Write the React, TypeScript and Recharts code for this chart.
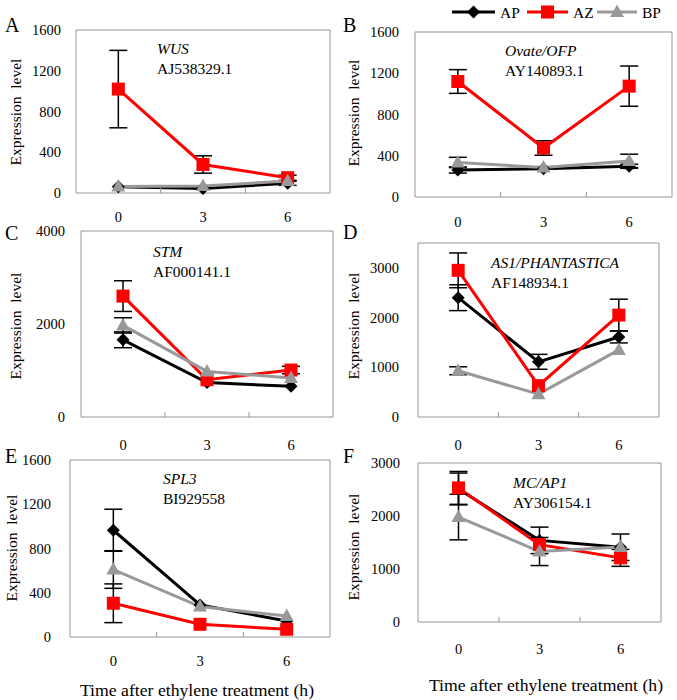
import React from "react";
import { LineChart, Line, XAxis, YAxis, ErrorBar, ReferenceArea } from "recharts";

const TIMES = [0, 3, 6];
const SERIES = ["AP", "AZ", "BP"];

// A - WUS
const wusAP = [62, 45, 95];
const wusAPErr = [null, null, 20];
const wusAZ = [1020, 280, 150];
const wusAZErr = [380, 85, 25];
const wusBP = [65, 68, 118];
const wusBPErr = [null, null, null];
const wusTicks = [0, 400, 800, 1200, 1600];

// B - Ovate/OFP
const ofpAP = [262, 275, 298];
const ofpAPErr = [30, null, 20];
const ofpAZ = [1120, 475, 1075];
const ofpAZErr = [115, 70, 195];
const ofpBP = [335, 285, 350];
const ofpBPErr = [50, null, 65];
const ofpTicks = [0, 400, 800, 1200, 1600];

// C - STM
const stmAP = [1660, 740, 660];
const stmAPErr = [170, null, null];
const stmAZ = [2600, 800, 1010];
const stmAZErr = [330, null, 80];
const stmBP = [1970, 980, 840];
const stmBPErr = [165, null, null];
const stmTicks = [0, 2000, 4000];

// D - AS1/PHANTASTICA
const as1AP = [2400, 1110, 1610];
const as1APErr = [260, 150, 120];
const as1AZ = [2950, 630, 2050];
const as1AZErr = [350, null, 320];
const as1BP = [930, 460, 1350];
const as1BPErr = [80, null, null];
const as1Ticks = [0, 1000, 2000, 3000];

// E - SPL3
const splAP = [965, 290, 145];
const splAPErr = [190, null, null];
const splAZ = [305, 115, 70];
const splAZErr = [175, null, null];
const splBP = [610, 275, 190];
const splBPErr = [170, null, null];
const splTicks = [0, 400, 800, 1200, 1600];

// F - MC/AP1
const mcAP = [2510, 1540, 1410];
const mcAPErr = [300, 250, 250];
const mcAZ = [2530, 1460, 1210];
const mcAZErr = [310, null, 160];
const mcBP = [1980, 1330, 1415];
const mcBPErr = [430, 265, null];
const mcTicks = [0, 1000, 2000, 3000];

const FONT = "Liberation Serif, Times New Roman, Times, DejaVu Serif, serif";
const COLORS = { AP: "#000000", AZ: "#ff0000", BP: "#999999" };
const BORDER = "#969696";

const build = (ap, apE, az, azE, bp, bpE) =>
  TIMES.map((t, i) => ({ t, AP: ap[i], APe: apE[i], AZ: az[i], AZe: azE[i], BP: bp[i], BPe: bpE[i] }));

const panels = [
  { letter: "A", gene: "WUS", acc: "AJ538329.1", data: build(wusAP, wusAPErr, wusAZ, wusAZErr, wusBP, wusBPErr), ticks: wusTicks, max: 1600,
    box: [76, 30, 330, 193], gap: 15, lab: 24, letterPos: [5, 25], yTitle: [15, 112], genePos: [157, 48] },
  { letter: "B", gene: "Ovate/OFP", acc: "AY140893.1", data: build(ofpAP, ofpAPErr, ofpAZ, ofpAZErr, ofpBP, ofpBPErr), ticks: ofpTicks, max: 1600,
    box: [415, 32, 672, 197], gap: 16, lab: 25, letterPos: [343, 25], yTitle: [353, 113], genePos: [505, 50] },
  { letter: "C", gene: "STM", acc: "AF000141.1", data: build(stmAP, stmAPErr, stmAZ, stmAZErr, stmBP, stmBPErr), ticks: stmTicks, max: 4000,
    box: [81, 231, 333, 417], gap: 16, lab: 28, letterPos: [5, 233], yTitle: [15, 326], genePos: [153, 251] },
  { letter: "D", gene: "AS1/PHANTASTICA", acc: "AF148934.1", data: build(as1AP, as1APErr, as1AZ, as1AZErr, as1BP, as1BPErr), ticks: as1Ticks, max: 3500,
    box: [418, 243, 659, 417], gap: 19, lab: 28, letterPos: [343, 232], yTitle: [353, 326], genePos: [491, 262] },
  { letter: "E", gene: "SPL3", acc: "BI929558", data: build(splAP, splAPErr, splAZ, splAZErr, splBP, splBPErr), ticks: splTicks, max: 1600,
    box: [70, 460, 330, 637], gap: 19, lab: 24, letterPos: [5, 456], yTitle: [11, 548], genePos: [163, 478] },
  { letter: "F", gene: "MC/AP1", acc: "AY306154.1", data: build(mcAP, mcAPErr, mcAZ, mcAZErr, mcBP, mcBPErr), ticks: mcTicks, max: 3000,
    box: [418, 463, 661, 622], gap: 18, lab: 27, letterPos: [343, 456], yTitle: [353, 547], genePos: [513, 482] },
];

function Marker({ name, cx, cy }) {
  if (cx == null || cy == null) return null;
  if (name === "AP") {
    const h = 6.5;
    return <polygon points={`${cx},${cy - h} ${cx + h},${cy} ${cx},${cy + h} ${cx - h},${cy}`} fill={COLORS.AP} />;
  }
  if (name === "AZ") {
    return <rect x={cx - 6.5} y={cy - 6.5} width={13} height={13} fill={COLORS.AZ} />;
  }
  return <polygon points={`${cx},${cy - 7.5} ${cx + 7},${cy + 5} ${cx - 7},${cy + 5}`} fill={COLORS.BP} />;
}

const YAXIS_W = 60;
const PAD = 8;
const XAXIS_H = 40;

function Panel({ p }) {
  const [l, t, r, b] = p.box;
  const width = r - l + YAXIS_W + PAD;
  const height = b - t + PAD + XAXIS_H;
  const between = TIMES.slice(1).map((v, i) => (v + TIMES[i]) / 2);
  const step = TIMES[1] - TIMES[0];
  const domain = [TIMES[0] - step / 2, TIMES[TIMES.length - 1] + step / 2];
  const xTicks = [...TIMES, ...between].sort((a, c) => a - c);

  const renderTick = (props) => {
    const { x, y, payload } = props;
    if (TIMES.includes(payload.value)) {
      return (
        <text x={x} y={y + p.lab} textAnchor="middle" dominantBaseline="central" fontSize={14.5} fontFamily={FONT} fill="#000">
          {payload.value}
        </text>
      );
    }
    return <line x1={x} x2={x} y1={y} y2={y - 5} stroke={BORDER} strokeWidth={1} />;
  };

  return (
    <div style={{ position: "absolute", left: l - YAXIS_W, top: t - PAD }}>
      <LineChart width={width} height={height} data={p.data} margin={{ top: PAD, right: PAD, left: 0, bottom: 0 }}>
        <XAxis
          dataKey="t"
          type="number"
          domain={domain}
          ticks={xTicks}
          interval={0}
          tick={renderTick}
          tickLine={false}
          axisLine={false}
          tickSize={0}
          tickMargin={0}
          height={XAXIS_H}
        />
        <YAxis
          type="number"
          domain={[0, p.max]}
          ticks={p.ticks}
          interval={0}
          width={YAXIS_W}
          tickLine={false}
          axisLine={false}
          tickSize={0}
          tickMargin={p.gap}
          tick={{ fontSize: 14.5, fontFamily: FONT, fill: "#000" }}
        />
        <ReferenceArea x1={domain[0]} x2={domain[1]} y1={0} y2={p.max} fill="none" stroke={BORDER} strokeWidth={1} ifOverflow="visible" />
        {SERIES.map((s) => (
          <Line
            key={s}
            dataKey={s}
            stroke={COLORS[s]}
            strokeWidth={3}
            isAnimationActive={false}
            dot={(dp) => <Marker key={`${s}-${dp.index}`} name={s} cx={dp.cx} cy={dp.cy} />}
            activeDot={false}
          >
            <ErrorBar dataKey={`${s}e`} direction="y" width={9} stroke="#000" strokeWidth={1.5} isAnimationActive={false} />
          </Line>
        ))}
      </LineChart>
    </div>
  );
}

function Overlay() {
  const legendX = [452, 527, 597];
  const legendLen = [43, 41, 40];
  return (
    <svg width={677} height={700} style={{ position: "absolute", left: 0, top: 0, pointerEvents: "none", fontFamily: FONT }}>
      {panels.map((p) => (
        <g key={p.letter}>
          <text x={p.letterPos[0]} y={p.letterPos[1]} dominantBaseline="central" fontSize={20}>{p.letter}</text>
          <text
            x={p.yTitle[0]}
            y={p.yTitle[1]}
            textAnchor="middle"
            dominantBaseline="central"
            fontSize={15.5}
            transform={`rotate(-90 ${p.yTitle[0]} ${p.yTitle[1]})`}
            style={{ whiteSpace: "pre" }}
          >
            Expression  level
          </text>
          <text x={p.genePos[0]} y={p.genePos[1]} dominantBaseline="central" fontSize={15.5} fontStyle="italic">{p.gene}</text>
          <text x={p.genePos[0]} y={p.genePos[1] + 20} dominantBaseline="central" fontSize={15.5}>{p.acc}</text>
        </g>
      ))}
      <text x={197} y={690} textAnchor="middle" dominantBaseline="central" fontSize={17.7}>Time after ethylene treatment (h)</text>
      <text x={546} y={685} textAnchor="middle" dominantBaseline="central" fontSize={17.7}>Time after ethylene treatment (h)</text>
      {SERIES.map((s, i) => {
        const x0 = legendX[i];
        const len = legendLen[i];
        const cx = x0 + len / 2;
        return (
          <g key={s}>
            <line x1={x0} x2={x0 + len} y1={12} y2={12} stroke={COLORS[s]} strokeWidth={3} />
            <Marker name={s} cx={cx} cy={12} />
            <text x={x0 + len + 5} y={12} dominantBaseline="central" fontSize={15.5}>{s}</text>
          </g>
        );
      })}
    </svg>
  );
}

export default function App() {
  return (
    <div style={{ position: "absolute", left: 0, top: 0, width: 677, height: 700, background: "#fff", fontFamily: FONT }}>
      {panels.map((p) => (
        <Panel key={p.letter} p={p} />
      ))}
      <Overlay />
    </div>
  );
}
